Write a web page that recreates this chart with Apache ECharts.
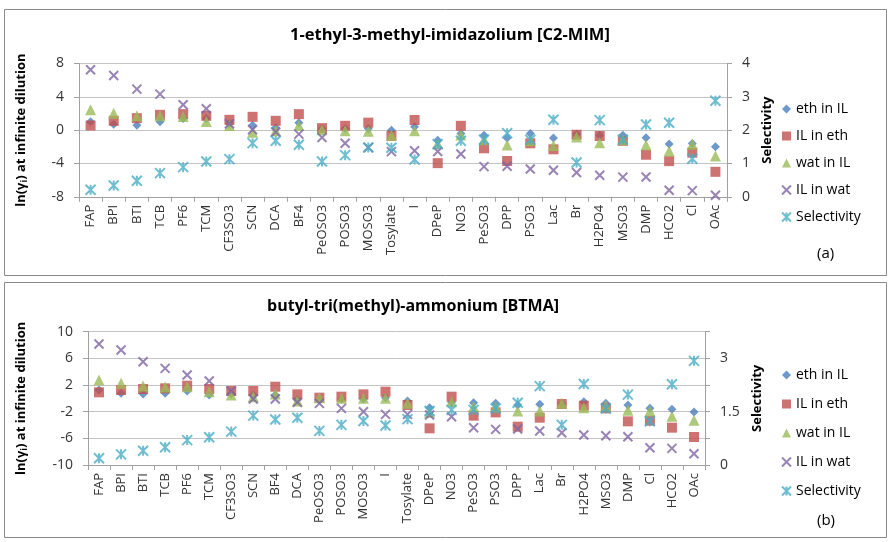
<!DOCTYPE html>
<html><head><meta charset="utf-8">
<script src="https://cdn.jsdelivr.net/npm/echarts@6/dist/echarts.min.js"></script>
<style>html,body{margin:0;padding:0;background:#fff}#c{width:891px;height:542px}</style>
</head><body><div id="c"></div>
<script>
const catsA = ['FAP','BPI','BTI','TCB','PF6','TCM','CF3SO3','SCN','DCA','BF4','PeOSO3','POSO3','MOSO3','Tosylate','I','DPeP','NO3','PeSO3','DPP','PSO3','Lac','Br','H2PO4','MSO3','DMP','HCO2','Cl','OAc'];
const ethInIL_A = [1.0,0.7,0.6,1.0,1.4,1.4,0.8,0.6,0.3,0.9,0.2,0.2,0.2,0.0,0.4,-1.2,-0.4,-0.6,-0.95,-0.4,-0.95,-0.5,-0.6,-0.6,-0.9,-1.65,-1.6,-2.0];
const ILinEth_A = [0.56,1.12,1.44,1.84,1.92,1.72,1.24,1.6,1.12,1.92,0.24,0.52,0.9,-0.68,1.22,-3.96,0.52,-2.18,-3.7,-1.58,-2.3,-0.55,-0.7,-1.28,-2.95,-3.72,-2.7,-5.0];
const watInIL_A = [2.44,2.04,1.72,1.72,1.64,1.04,0.56,-0.24,-0.08,0.56,0.04,-0.08,-0.14,-0.62,-0.08,-1.62,-0.58,-1.14,-1.78,-1.28,-1.85,-0.82,-1.5,-1.16,-1.78,-2.5,-1.7,-3.1];
const ILinWat_A = [7.24,6.56,4.92,4.32,3.04,2.56,0.76,0.04,-0.24,-0.48,-0.88,-1.58,-2.08,-2.58,-2.48,-2.56,-2.86,-4.38,-4.34,-4.66,-4.82,-5.08,-5.42,-5.64,-5.62,-7.22,-7.26,-7.82];
const selA = [0.21,0.34,0.48,0.71,0.89,1.06,1.13,1.61,1.68,1.56,1.06,1.25,1.48,1.47,1.12,1.58,1.68,1.71,1.91,1.71,2.31,1.03,2.3,1.71,2.17,2.22,1.14,2.88];

const catsB = ['FAP','BPI','BTI','TCB','PF6','TCM','CF3SO3','SCN','BF4','DCA','PeOSO3','POSO3','MOSO3','I','Tosylate','DPeP','NO3','PeSO3','PSO3','DPP','Lac','Br','H2PO4','MSO3','DMP','Cl','HCO2','OAc'];
const ethInIL_B = [1.25,0.75,0.65,0.75,1.1,0.5,0.7,0.5,0.5,-0.2,-0.25,-0.1,-0.1,0.1,-0.4,-1.4,-0.6,-0.65,-0.75,-1.0,-0.9,-0.8,-0.5,-0.75,-1.0,-1.5,-1.65,-2.05];
const ILinEth_B = [0.9,1.25,1.4,1.5,1.9,1.4,1.1,1.1,1.75,0.6,0.1,0.25,0.6,1.0,-1.0,-4.5,0.25,-2.6,-2.1,-4.25,-2.9,-0.85,-1.1,-1.5,-3.45,-3.35,-4.4,-5.8];
const watInIL_B = [2.75,2.25,1.85,1.7,1.75,1.0,0.5,0.25,0.65,-0.4,0.1,0.0,0.0,0.0,-0.75,-2.1,-0.5,-1.25,-1.25,-1.9,-1.9,-0.75,-1.4,-1.1,-1.8,-1.9,-2.7,-3.3];
const ILinWat_B = [8.15,7.25,5.5,4.5,3.5,2.6,1.1,-0.1,-0.1,-0.6,-0.75,-1.5,-2.0,-2.4,-2.4,-2.5,-2.75,-4.4,-4.65,-4.6,-4.9,-5.15,-5.5,-5.6,-5.75,-7.4,-7.5,-8.3];
const selB = [0.19,0.30,0.40,0.50,0.70,0.78,0.94,1.39,1.28,1.33,0.96,1.13,1.24,1.11,1.29,1.52,1.55,1.55,1.59,1.75,2.22,1.13,2.28,1.59,1.98,1.23,2.27,2.93];

const ticksLeftA = [-8, 8, 4];
const ticksRightA = [0, 4, 1];
const ticksLeftB = [-10, 10, 4];
const ticksRightB = [0, 3.75, 0.75];
const rightLabelsB = [0, 1.5, 3];

const FONT = 'Open Sans';
const C = {eth:'#4A7EBB', ile:'#C0504D', wat:'#9BBB59', ilw:'#8064A2', sel:'#4BACC6'};
const XPATH = 'path://M0,0L10,10M10,0L0,10';
const STAR = 'path://M0,0L10,10M10,0L0,10M5,0L5,10';

function series(xi, yl, yr, eth, ile, wat, ilw, sel) {
  return [
    {name:'eth in IL', type:'scatter', xAxisIndex:xi, yAxisIndex:yl, data:eth, symbol:'diamond', symbolSize:9, itemStyle:{color:C.eth}},
    {name:'IL in eth', type:'scatter', xAxisIndex:xi, yAxisIndex:yl, data:ile, symbol:'rect', symbolSize:10, itemStyle:{color:C.ile}},
    {name:'wat in IL', type:'scatter', xAxisIndex:xi, yAxisIndex:yl, data:wat, symbol:'triangle', symbolSize:11, itemStyle:{color:C.wat}},
    {name:'IL in wat', type:'scatter', xAxisIndex:xi, yAxisIndex:yl, data:ilw, symbol:XPATH, symbolSize:9, itemStyle:{color:'rgba(0,0,0,0)', borderColor:C.ilw, borderWidth:2}},
    {name:'Selectivity', type:'scatter', xAxisIndex:xi, yAxisIndex:yr, data:sel, symbol:STAR, symbolSize:10, itemStyle:{color:'rgba(0,0,0,0)', borderColor:C.sel, borderWidth:2}}
  ];
}

const axisLineStyle = {show:true, lineStyle:{color:'#a0a0a0', width:1}};
const tick = {show:true, length:5, lineStyle:{color:'#a0a0a0'}};
function xAx(gi, cats) {
  return {type:'category', gridIndex:gi, data:cats, boundaryGap:true,
    axisLine:{show:true, onZero:false, lineStyle:{color:'#a0a0a0'}},
    axisTick:{show:true, length:5, interval:0, lineStyle:{color:'#a0a0a0'}},
    axisLabel:{rotate:90, interval:0, margin:8, fontFamily:FONT, fontSize:13, color:'#333'},
    splitLine:{show:false}};
}
const nameLeft = {rich:{a:{fontFamily:FONT, fontSize:13, fontWeight:'bold', color:'#000', lineHeight:16}, s:{fontFamily:FONT, fontSize:9, fontWeight:'bold', color:'#000', lineHeight:10, verticalAlign:'bottom'}}};
const nameRight = {fontFamily:FONT, fontSize:13, fontWeight:'bold', color:'#000'};
function yL(gi, t, gap) {
  return {type:'value', gridIndex:gi, position:'left', min:t[0], max:t[1], interval:t[2],
    axisLine:axisLineStyle, axisTick:tick,
    axisLabel:{margin:15, fontFamily:FONT, fontSize:14, color:'#333'},
    splitLine:{show:true, lineStyle:{color:'#c4c4c4', width:1}},
    name:'{a|ln(γ}{s|i}{a|) at infinite dilution}', nameLocation:'middle', nameGap:gap, nameRotate:90, nameTextStyle:nameLeft};
}
function yR(gi, t, gap, fmt) {
  return {type:'value', gridIndex:gi, position:'right', min:t[0], max:t[1], interval:t[2],
    axisLine:axisLineStyle, axisTick:tick,
    axisLabel:{margin:15, fontFamily:FONT, fontSize:14, color:'#333', formatter:fmt},
    splitLine:{show:false},
    name:'Selectivity', nameLocation:'middle', nameGap:gap, nameRotate:90, nameTextStyle:nameRight};
}

const legendNames = ['eth in IL','IL in eth','wat in IL','IL in wat','Selectivity'];
const option = {
  animation:false,
  backgroundColor:'#fff',
  title:[
    {text:'1-ethyl-3-methyl-imidazolium [C2-MIM]', left:445, top:22, textAlign:'center', textStyle:{fontFamily:FONT, fontSize:16.5, fontWeight:'bold', color:'#000'}},
    {text:'butyl-tri(methyl)-ammonium [BTMA]', left:408, top:293, textAlign:'center', textStyle:{fontFamily:FONT, fontSize:16, fontWeight:'bold', color:'#000'}}
  ],
  legend:[
    {data:legendNames, orient:'vertical', left:776, top:96, itemWidth:9, itemHeight:9, itemGap:11, textStyle:{fontFamily:FONT, fontSize:14, color:'#000', lineHeight:16}},
    {data:legendNames, orient:'vertical', left:776, top:362, itemWidth:9, itemHeight:9, itemGap:13, textStyle:{fontFamily:FONT, fontSize:14, color:'#000', lineHeight:16}}
  ],
  grid:[
    {left:79, top:63.5, width:648, height:133.3},
    {left:88, top:331.7, width:617, height:133.3}
  ],
  xAxis:[xAx(0, catsA), xAx(1, catsB)],
  yAxis:[
    yL(0, ticksLeftA, 50),
    yR(0, ticksRightA, 30),
    yL(1, ticksLeftB, 59),
    yR(1, ticksRightB, 32, function(v){ return rightLabelsB.some(function(r){return Math.abs(r-v)<1e-6;}) ? String(v) : ''; })
  ],
  graphic:[
    {type:'rect', shape:{x:4.5, y:9.5, width:882, height:266}, style:{fill:'none', stroke:'#8a8a8a', lineWidth:1}, silent:true},
    {type:'rect', shape:{x:4.5, y:282.5, width:882, height:255}, style:{fill:'none', stroke:'#8a8a8a', lineWidth:1}, silent:true},
    {type:'text', left:817, top:246, style:{text:'(a)', font:'15px "Open Sans"', fill:'#000'}},
    {type:'text', left:817, top:513, style:{text:'(b)', font:'15px "Open Sans"', fill:'#000'}}
  ],
  series:[].concat(
    series(0, 0, 1, ethInIL_A, ILinEth_A, watInIL_A, ILinWat_A, selA),
    series(1, 2, 3, ethInIL_B, ILinEth_B, watInIL_B, ILinWat_B, selB)
  )
};
const chart = echarts.init(document.getElementById('c'), null, {renderer:'canvas'});
chart.setOption(option);
</script></body></html>
